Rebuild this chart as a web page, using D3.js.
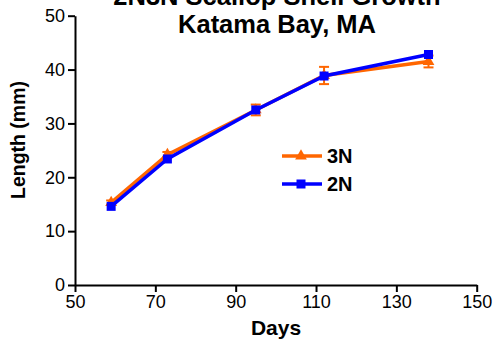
<!doctype html>
<html>
<head>
<meta charset="utf-8" />
<title>2N3N Scallop Shell Growth</title>
<style>
  html,body{margin:0;background:#fff}
  svg{display:block;font-family:Arial,"Liberation Sans",sans-serif}
  .axis path,.axis line{stroke:#000;stroke-width:2}
  .axis text{font-size:18px;fill:#000}
</style>
<script src="https://cdn.jsdelivr.net/npm/d3@7"></script>
</head>
<body>
<svg id="chart" width="495" height="346"></svg>
<script>
// ---- data ----
const days     = [59, 73, 95, 112, 138];
const len3N    = [15.3, 24.2, 32.5, 38.9, 41.5];
const err3N    = [0.4, 0.5, 1.0, 1.6, 1.1];
const len2N    = [14.6, 23.4, 32.5, 38.8, 42.8];
const xTicks   = [50, 70, 90, 110, 130, 150];
const yTicks   = [0, 10, 20, 30, 40, 50];
const seriesNames = ['3N', '2N'];

const svg = d3.select('#chart');
const x = d3.scaleLinear().domain([50, 150]).range([75, 476.7]);
const y = d3.scaleLinear().domain([0, 50]).range([285, 15.7]);

/* axes */
svg.append('g').attr('class','axis')
  .attr('transform','translate(0,285)')
  .call(d3.axisBottom(x).tickValues(xTicks).tickSize(7).tickPadding(3).tickSizeOuter(0));
svg.append('g').attr('class','axis')
  .attr('transform','translate(75,0)')
  .call(d3.axisLeft(y).tickValues(yTicks).tickSize(7).tickPadding(3).tickSizeOuter(0));

/* titles (first line is clipped by the top edge, as in the original) */
const title = svg.append('text').attr('text-anchor','middle')
  .attr('font-weight','bold').attr('font-size',25.5);
title.append('tspan').attr('x',277).attr('y',5).text('2N3N Scallop Shell Growth');
title.append('tspan').attr('x',277).attr('y',33).text('Katama Bay, MA');

svg.append('text').attr('x',276).attr('y',335).attr('text-anchor','middle')
  .attr('font-weight','bold').attr('font-size',21).text('Days');
svg.append('text').attr('transform','translate(25,140) rotate(-90)')
  .attr('text-anchor','middle').attr('font-weight','bold').attr('font-size',19.5)
  .text('Length (mm)');

/* series */
const orange = '#ff6600', blue = '#0000ff';
const line = d3.line().x(d => x(d[0])).y(d => y(d[1]));
const tri = d3.symbol().type(d3.symbolTriangle).size(60);
const sq  = d3.symbol().type(d3.symbolSquare).size(81);

const pts3 = days.map((d,i) => [d, len3N[i], err3N[i]]);
const pts2 = days.map((d,i) => [d, len2N[i]]);

// 3N error bars
const eb = svg.append('g').attr('stroke',orange).attr('stroke-width',2);
pts3.forEach(p => {
  eb.append('line').attr('x1',x(p[0])).attr('x2',x(p[0]))
    .attr('y1',y(p[1]-p[2])).attr('y2',y(p[1]+p[2]));
  [p[1]-p[2], p[1]+p[2]].forEach(v => eb.append('line')
    .attr('x1',x(p[0])-5).attr('x2',x(p[0])+5).attr('y1',y(v)).attr('y2',y(v)));
});

svg.append('path').datum(pts3).attr('d',line)
  .attr('fill','none').attr('stroke',orange).attr('stroke-width',3.5);
svg.append('g').selectAll('path').data(pts3).join('path')
  .attr('d',tri).attr('fill',orange)
  .attr('transform',d => `translate(${x(d[0])},${y(d[1])})`);

svg.append('path').datum(pts2).attr('d',line)
  .attr('fill','none').attr('stroke',blue).attr('stroke-width',3.5);
svg.append('g').selectAll('path').data(pts2).join('path')
  .attr('d',sq).attr('fill',blue)
  .attr('transform',d => `translate(${x(d[0])},${y(d[1])})`);

/* legend */
const legend = svg.append('g');
[[orange, tri], [blue, sq]].forEach(([c, sym], i) => {
  const ly = 156 + i*28;
  legend.append('line').attr('x1',282).attr('x2',322).attr('y1',ly).attr('y2',ly)
    .attr('stroke',c).attr('stroke-width',3.5);
  legend.append('path').attr('d',sym).attr('fill',c)
    .attr('transform',`translate(301,${ly})`);
  legend.append('text').attr('x',327).attr('y',ly+7).attr('font-weight','bold')
    .attr('font-size',20).text(seriesNames[i]);
});
</script>
</body>
</html>
